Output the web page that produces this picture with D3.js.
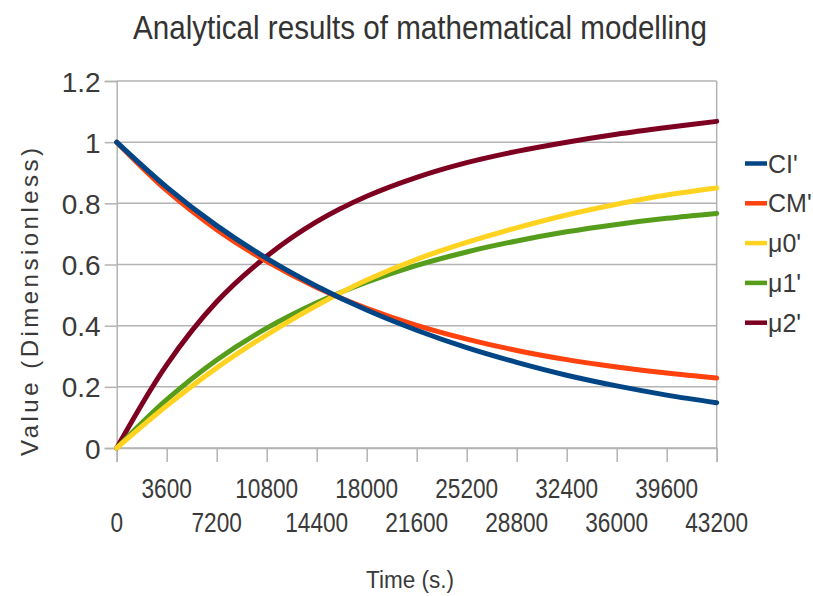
<!DOCTYPE html>
<html>
<head>
<meta charset="utf-8">
<script src="https://cdn.jsdelivr.net/npm/d3@7"></script>
<style>
  html, body { margin: 0; padding: 0; background: #ffffff; }
  svg { display: block; }
  text { font-family: "Liberation Sans", Arial, sans-serif; fill: #3a3a3a; }
</style>
</head>
<body>
<svg id="chart" width="813" height="596"></svg>
<script>
// ---- data ----
const chartTitle = "Analytical results of mathematical modelling";
const xTitle = "Time (s.)";
const yTitle = "Value (Dimensionless)";
const timeValues = [0, 3600, 7200, 10800, 14400, 18000, 21600, 25200, 28800, 32400, 36000, 39600, 43200];
const yTickValues = [0, 0.2, 0.4, 0.6, 0.8, 1, 1.2];
const seriesNames = ["CI'", "CM'", "\u03bc0'", "\u03bc1'", "\u03bc2'"];
const seriesColors = ["#004586", "#ff420e", "#ffd320", "#579d1c", "#7e0021"];
const ciValues  = [1, 0.853, 0.727, 0.620, 0.529, 0.451, 0.385, 0.328, 0.280, 0.238, 0.203, 0.173, 0.148];
const cmValues  = [1, 0.842, 0.714, 0.610, 0.525, 0.457, 0.401, 0.356, 0.319, 0.289, 0.265, 0.245, 0.229];
const mu0Values = [0, 0.138, 0.262, 0.370, 0.466, 0.549, 0.617, 0.672, 0.720, 0.762, 0.797, 0.827, 0.850];
const mu1Values = [0, 0.158, 0.288, 0.392, 0.475, 0.542, 0.597, 0.641, 0.677, 0.707, 0.731, 0.751, 0.767];
const mu2Values = [0, 0.272, 0.478, 0.627, 0.740, 0.823, 0.885, 0.933, 0.970, 1.000, 1.026, 1.048, 1.068];
const seriesValues = [ciValues, cmValues, mu0Values, mu1Values, mu2Values];

// ---- layout ----
const svg = d3.select("#chart");
const plot = { left: 116.7, right: 716.7, top: 81, bottom: 448 };
const x = d3.scaleLinear().domain([0, 43200]).range([plot.left, plot.right]);
const y = d3.scaleLinear().domain([0, 1.2]).range([plot.bottom, plot.top]);
const gridColor = "#b3b3b3";

// title
svg.append("text")
  .attr("x", 420).attr("y", 39)
  .attr("text-anchor", "middle")
  .attr("font-size", 33)
  .attr("textLength", 574).attr("lengthAdjust", "spacingAndGlyphs")
  .style("fill", "#333")
  .text(chartTitle);

// horizontal grid lines
svg.append("g").selectAll("line").data(yTickValues).join("line")
  .attr("x1", plot.left).attr("x2", plot.right)
  .attr("y1", d => y(d)).attr("y2", d => y(d))
  .attr("stroke", gridColor).attr("stroke-width", 1.5);

// right border
svg.append("line")
  .attr("x1", plot.right).attr("x2", plot.right)
  .attr("y1", plot.top).attr("y2", plot.bottom)
  .attr("stroke", gridColor).attr("stroke-width", 1.5);

// y axis
const yAxis = d3.axisLeft(y).tickValues(yTickValues).tickSize(12).tickPadding(4)
  .tickFormat(d3.format("~g"));
const yg = svg.append("g").attr("transform", `translate(${plot.left},0)`).call(yAxis);
yg.select(".domain").attr("stroke", gridColor).attr("stroke-width", 1.5);
yg.selectAll(".tick line").attr("stroke", gridColor).attr("stroke-width", 1.5);
yg.selectAll(".tick text").attr("font-size", 28).attr("dy", "0.36em")
  .style("font-family", '"Liberation Sans", Arial, sans-serif').style("fill", "#3a3a3a");

// x axis
const xAxis = d3.axisBottom(x).tickValues(timeValues).tickSize(14).tickFormat("");
const xg = svg.append("g").attr("transform", `translate(0,${plot.bottom})`).call(xAxis);
xg.select(".domain").attr("stroke", gridColor).attr("stroke-width", 1.5);
xg.selectAll(".tick line").attr("stroke", gridColor).attr("stroke-width", 1.5);

// staggered x tick labels
svg.append("g").selectAll("text").data(timeValues).join("text")
  .attr("x", d => x(d))
  .attr("y", (d, i) => i % 2 === 1 ? 498 : 532)
  .attr("text-anchor", "middle")
  .attr("font-size", 28)
  .attr("textLength", d => String(d).length * 12.6)
  .attr("lengthAdjust", "spacingAndGlyphs")
  .text(d => String(d));

// axis titles
svg.append("text")
  .attr("x", 410).attr("y", 588)
  .attr("text-anchor", "middle")
  .attr("font-size", 23)
  .attr("textLength", 88).attr("lengthAdjust", "spacingAndGlyphs")
  .text(xTitle);

svg.append("text")
  .attr("transform", "translate(38,302) rotate(-90)")
  .attr("text-anchor", "middle")
  .attr("font-size", 24)
  .attr("textLength", 308).attr("lengthAdjust", "spacing")
  .text(yTitle);

// series lines (drawn in reverse so CI' is on top)
const line = d3.line()
  .x((d, i) => x(timeValues[i]))
  .y(d => y(d))
  .curve(d3.curveCatmullRom.alpha(0.5));

const order = [4, 3, 2, 1, 0];
svg.append("g").selectAll("path").data(order).join("path")
  .attr("d", k => line(seriesValues[k]))
  .attr("fill", "none")
  .attr("stroke", k => seriesColors[k])
  .attr("stroke-width", 5)
  .attr("stroke-linejoin", "round")
  .attr("stroke-linecap", "round");

// legend
const legend = svg.append("g").selectAll("g").data(seriesNames).join("g")
  .attr("transform", (d, i) => `translate(745,${163.5 + i * 39.8})`);
legend.append("line")
  .attr("x1", 0).attr("x2", 22).attr("y1", 0).attr("y2", 0)
  .attr("stroke", (d, i) => seriesColors[i]).attr("stroke-width", 4.5);
legend.append("text")
  .attr("x", 23).attr("y", 9)
  .attr("font-size", 25)
  .text(d => d);
</script>
</body>
</html>
